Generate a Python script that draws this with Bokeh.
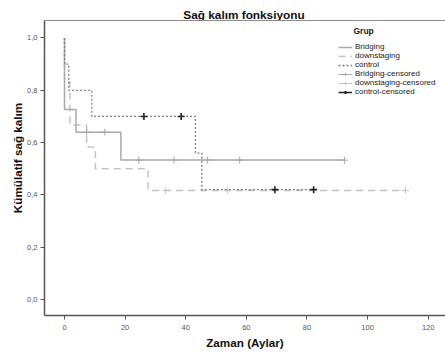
from bokeh.plotting import figure
from bokeh.models import (Range1d, Legend, LegendItem, Span, FixedTicker, Label,
                          CustomJSTickFormatter, ColumnDataSource)
from bokeh.embed import file_html
from bokeh.resources import INLINE

title_text = "Sağ kalım fonksiyonu"
x_label = "Zaman (Aylar)"
y_label = "Kümülatif sağ kalım"
legend_title = "Grup"

x_ticks = [0, 20, 40, 60, 80, 100, 120]
y_ticks = [0.0, 0.2, 0.4, 0.6, 0.8, 1.0]

bridging_t = [0, 0, 3.8, 18.6, 92.4]
bridging_s = [1.0, 0.727, 0.64, 0.533, 0.533]
bridging_cens_t = [7.3, 13.3, 24.5, 36.1, 47.2, 57.8, 92.4]
bridging_cens_s = [0.64, 0.64, 0.533, 0.533, 0.533, 0.533, 0.533]

downstaging_t = [0, 0, 1.8, 7.3, 10.2, 27.6, 112.5]
downstaging_s = [1.0, 0.833, 0.667, 0.583, 0.5, 0.417, 0.417]
downstaging_cens_t = [33.4, 53.8, 112.5]
downstaging_cens_s = [0.417, 0.417, 0.417]

control_t = [0, 0, 1.4, 9.0, 43.2, 45.3, 82.2]
control_s = [1.0, 0.9, 0.8, 0.7, 0.56, 0.42, 0.42]
control_cens_t = [26.2, 38.5, 69.4, 82.2]
control_cens_s = [0.7, 0.7, 0.42, 0.42]

FONT = "Liberation Sans"
W, H = 445, 353
LEFT, TOP, BOTTOM = 44, 0, 38
FRAME_W = W - LEFT
FRAME_H = H - TOP - BOTTOM

Y_TOP_BORDER = 1.067
Y_MIN = -0.0612
p = figure(width=W, height=H, output_backend="svg", toolbar_location=None,
           x_range=Range1d(-6.6, 125.7), y_range=Range1d(Y_MIN, 1.1434),
           min_border_left=LEFT, min_border_right=0, min_border_top=TOP,
           min_border_bottom=BOTTOM)

p.title.text = ""
p.title.visible = False

p.add_layout(Label(x=FRAME_W / 2 - 1, y=FRAME_H - 14, x_units="screen", y_units="screen",
                   text=title_text, text_align="center", text_baseline="middle",
                   text_font=FONT, text_font_size="11.8px", text_font_style="bold",
                   text_color="#111111"))

p.outline_line_color = None
p.grid.visible = False
p.background_fill_color = "white"

top_line = Span(location=Y_TOP_BORDER, dimension="width", line_color="#8a8a8a", line_width=1)
p.add_layout(top_line)

for ax in (p.xaxis[0], p.yaxis[0]):
    ax.axis_line_color = "#555555"
    ax.axis_line_width = 1.5
    ax.major_tick_line_color = "#555555"
    ax.major_tick_out = 4
    ax.major_tick_in = 0
    ax.minor_tick_line_color = None
    ax.major_label_text_font = FONT
    ax.major_label_text_font_size = "7.5px"
    ax.major_label_text_color = "#555555"
    ax.axis_label_text_font = FONT
    ax.axis_label_text_font_size = "11.7px"
    ax.axis_label_text_font_style = "bold"
    ax.axis_label_text_color = "#111111"

p.yaxis[0].bounds = (Y_MIN, Y_TOP_BORDER)
p.xaxis[0].ticker = FixedTicker(ticks=x_ticks)
p.yaxis[0].ticker = FixedTicker(ticks=y_ticks)
p.yaxis[0].formatter = CustomJSTickFormatter(code="return tick.toFixed(1).replace('.', ',');")
p.xaxis[0].axis_label = x_label
p.yaxis[0].axis_label = y_label
p.xaxis[0].major_label_standoff = 5
p.xaxis[0].axis_label_standoff = 3
p.yaxis[0].major_label_standoff = 3
p.yaxis[0].axis_label_standoff = 0

c_bridge = "#a9a9a9"
c_down = "#c4c4c4"
c_ctrl = "#808080"

r_down = p.step(downstaging_t, downstaging_s, mode="after", line_color=c_down,
                line_width=1.5, line_dash="7 5")
r_bridge = p.step(bridging_t, bridging_s, mode="after", line_color=c_bridge, line_width=1.5)
r_ctrl = p.step(control_t, control_s, mode="after", line_color=c_ctrl,
                line_width=1.3, line_dash="2 2")

r_bc = p.scatter(bridging_cens_t, bridging_cens_s, marker="cross", size=7,
                 line_color=c_bridge, line_width=1)
r_dc = p.scatter(downstaging_cens_t, downstaging_cens_s, marker="cross", size=7,
                 line_color=c_down, line_width=1)
r_cc = p.scatter(control_cens_t, control_cens_s, marker="cross", size=7,
                 line_color="#222222", line_width=1.6)

# legend helper lines (one undrawable point so the legend glyph is rendered)
nan = float("nan")
h_bc = p.line("x", "y", source=ColumnDataSource(data=dict(x=[nan], y=[nan])),
              line_color=c_bridge, line_width=1)
h_dc = p.line("x", "y", source=ColumnDataSource(data=dict(x=[nan], y=[nan])),
              line_color=c_down, line_width=1)
h_cc = p.line("x", "y", source=ColumnDataSource(data=dict(x=[nan], y=[nan])),
              line_color="#222222", line_width=1.5)

legend = Legend(items=[
    LegendItem(label="Bridging", renderers=[r_bridge]),
    LegendItem(label="downstaging", renderers=[r_down]),
    LegendItem(label="control", renderers=[r_ctrl]),
    LegendItem(label="Bridging-censored", renderers=[h_bc, r_bc]),
    LegendItem(label="downstaging-censored", renderers=[h_dc, r_dc]),
    LegendItem(label="control-censored", renderers=[h_cc, r_cc]),
], location=(294, 219))
legend.label_text_font = FONT
legend.label_text_font_size = "8px"
legend.label_text_color = "#222222"
legend.label_height = 8
legend.glyph_height = 8
legend.glyph_width = 14
legend.label_standoff = 3
legend.spacing = 0
legend.padding = 2
legend.margin = 0
legend.border_line_color = None
legend.background_fill_alpha = 0
p.add_layout(legend)

p.add_layout(Label(x=309, y=FRAME_H - 30, x_units="screen", y_units="screen",
                   text=legend_title, text_align="left", text_baseline="middle",
                   text_font=FONT, text_font_size="8.5px", text_font_style="bold",
                   text_color="#222222"))

open("out.html", "w").write(file_html(p, INLINE))
